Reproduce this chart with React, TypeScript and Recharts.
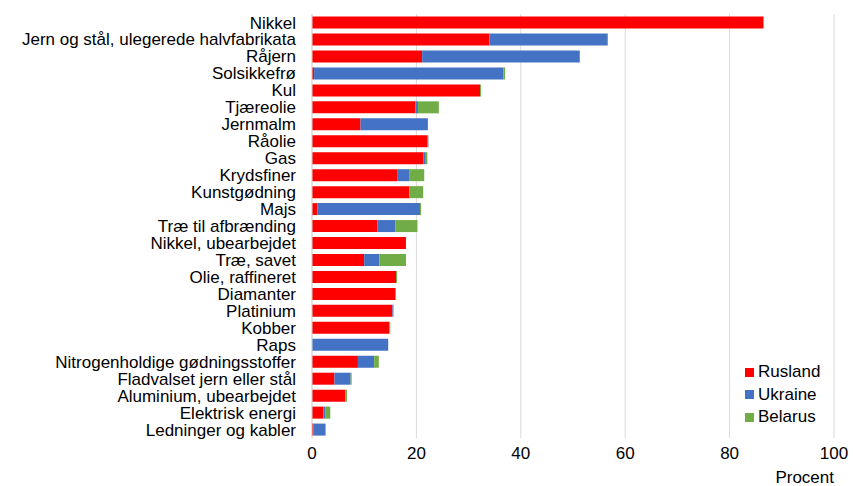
import React from 'react';
import { BarChart, Bar, XAxis, YAxis, CartesianGrid } from 'recharts';

const categories = [
  'Nikkel', 'Jern og stål, ulegerede halvfabrikata', 'Råjern', 'Solsikkefrø', 'Kul', 'Tjæreolie',
  'Jernmalm', 'Råolie', 'Gas', 'Krydsfiner', 'Kunstgødning', 'Majs', 'Træ til afbrænding',
  'Nikkel, ubearbejdet', 'Træ, savet', 'Olie, raffineret', 'Diamanter', 'Platinium', 'Kobber',
  'Raps', 'Nitrogenholdige gødningsstoffer', 'Fladvalset jern eller stål', 'Aluminium, ubearbejdet',
  'Elektrisk energi', 'Ledninger og kabler',
];
const rusland = [86.5, 34.0, 21.1, 0.4, 32.2, 19.8, 9.3, 22.1, 21.3, 16.3, 18.6, 1.0, 12.5, 18.0, 10.0, 16.1, 16.0, 15.4, 14.8, 0, 8.8, 4.3, 6.4, 2.2, 0.3];
const ukraine = [0, 22.5, 30.2, 36.3, 0, 0.5, 12.9, 0.2, 0.5, 2.3, 0, 19.7, 3.5, 0, 2.9, 0, 0, 0.2, 0, 14.6, 3.1, 3.1, 0, 0.4, 2.3];
const belarus = [0, 0.2, 0, 0.3, 0.2, 4.0, 0, 0, 0.3, 2.9, 2.7, 0.2, 4.2, 0, 5.1, 0.2, 0.1, 0, 0.2, 0, 0.9, 0.2, 0.3, 0.9, 0];
const xTicks = [0, 20, 40, 60, 80, 100];

const data = categories.map((name, i) => ({
  name,
  Rusland: rusland[i],
  Ukraine: ukraine[i],
  Belarus: belarus[i],
}));

const colors: Record<string, string> = { Rusland: '#ff0000', Ukraine: '#4472c4', Belarus: '#70ad47' };
const font = '"Liberation Sans", Arial, sans-serif';

// legend is drawn as a plain overlay so it does not shrink the plot area
const LegendBox = () => (
  <div style={{ position: 'absolute', left: 745, top: 361, fontFamily: font, fontSize: 17, color: '#000' }}>
    {Object.keys(colors).map(k => (
      <div key={k} style={{ display: 'flex', alignItems: 'center', height: 22.5 }}>
        <span style={{ width: 9, height: 9, background: colors[k], display: 'inline-block', marginRight: 4 }} />
        {k}
      </div>
    ))}
  </div>
);

export default function App() {
  return (
    <div style={{ position: 'absolute', left: 0, top: 0, width: 853, height: 486, background: '#fff' }}>
      <BarChart
        width={853}
        height={486}
        data={data}
        layout="vertical"
        margin={{ top: 14, right: 19, bottom: 8, left: 0 }}
        barCategoryGap="15%"
        style={{ fontFamily: font }}
      >
        <CartesianGrid horizontal={false} stroke="#d9d9d9" />
        <XAxis
          type="number"
          domain={[0, 100]}
          ticks={xTicks}
          axisLine={false}
          tickLine={false}
          tickMargin={3}
          height={40}
          tick={{ fill: '#000', fontSize: 17 }}
        />
        <YAxis
          type="category"
          dataKey="name"
          width={312}
          interval={0}
          tickLine={false}
          tickSize={6}
          tickMargin={10}
          axisLine={{ stroke: '#d9d9d9' }}
          tick={{ fill: '#000', fontSize: 17 }}
        />
        <Bar dataKey="Rusland" stackId="a" fill={colors.Rusland} isAnimationActive={false} />
        <Bar dataKey="Ukraine" stackId="a" fill={colors.Ukraine} isAnimationActive={false} />
        <Bar dataKey="Belarus" stackId="a" fill={colors.Belarus} isAnimationActive={false} />
      </BarChart>
      <LegendBox />
      <div style={{ position: 'absolute', right: 19, top: 468, fontFamily: font, fontSize: 17, lineHeight: '19px', color: '#000' }}>
        Procent
      </div>
    </div>
  );
}
